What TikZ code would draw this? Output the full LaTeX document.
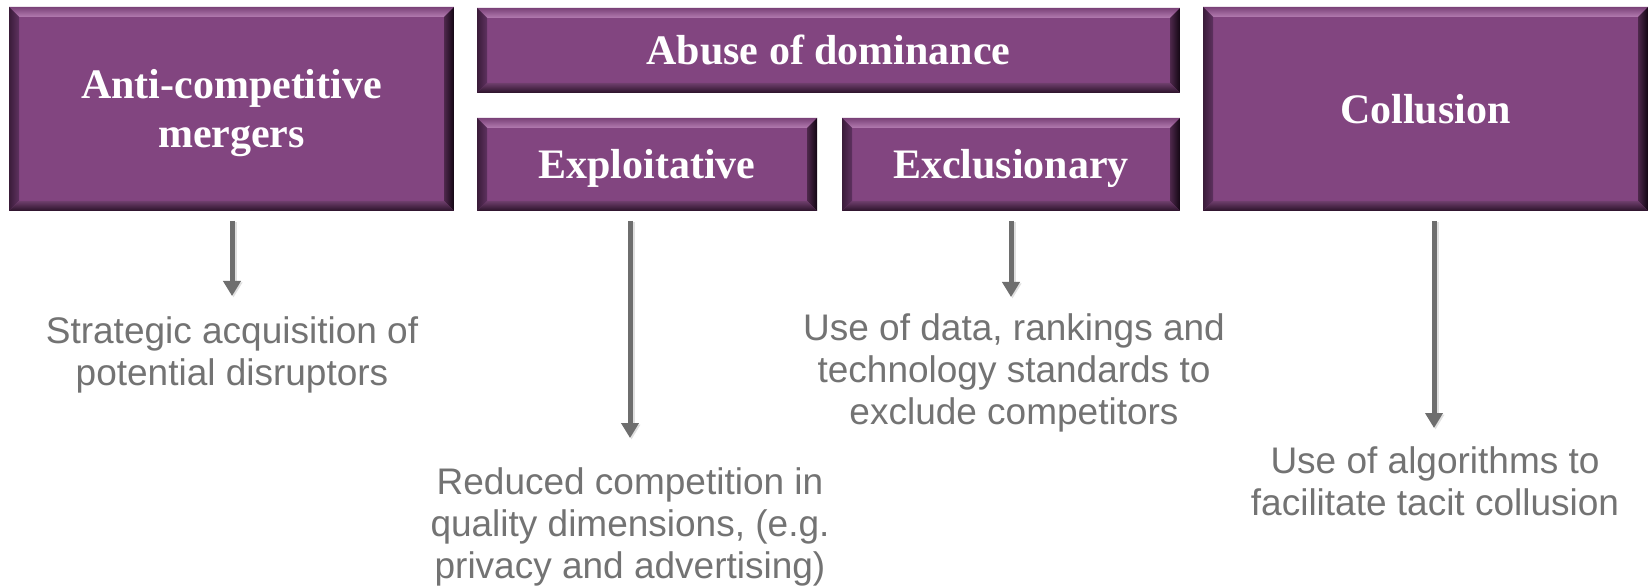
\documentclass[tikz,border=0pt]{standalone}
\usepackage{fontspec}
\setmainfont{Liberation Serif}
\newfontfamily\notefont{Liberation Sans}
\usetikzlibrary{arrows.meta}

% palette
\definecolor{boxfill}{HTML}{824580}
\definecolor{bvTopOut}{HTML}{7A4278}
\definecolor{bvTopIn}{HTML}{B47CB1}
\definecolor{bvLeftOut}{HTML}{3A1C39}
\definecolor{bvLeftIn}{HTML}{5E3160}
\definecolor{bvRightIn}{HTML}{4E284C}
\definecolor{bvRightOut}{HTML}{120612}
\definecolor{bvBotIn}{HTML}{6E3E6C}
\definecolor{bvBotOut}{HTML}{2A1229}
\definecolor{notegray}{HTML}{737373}
\definecolor{arrowgray}{HTML}{6E6E6E}

\def\bevelw{10pt}

\tikzset{
  x=1pt, y=-1pt,
  bevelbox/.style={
    rectangle, inner sep=0pt, outer sep=0pt, fill=boxfill,
    text=white, align=center, text height=29pt, text depth=0pt,
    font=\fontsize{42}{49}\selectfont\bfseries,
    path picture={
      \path (path picture bounding box.north west) coordinate (pNW)
            (path picture bounding box.north east) coordinate (pNE)
            (path picture bounding box.south west) coordinate (pSW)
            (path picture bounding box.south east) coordinate (pSE);
      % top bevel
      \shade[top color=bvTopOut, bottom color=bvTopIn]
        (pNW) -- (pNE) -- ([shift={(-\bevelw,-\bevelw)}]pNE)
        -- ([shift={(\bevelw,-\bevelw)}]pNW) -- cycle;
      % left bevel
      \shade[left color=bvLeftOut, right color=bvLeftIn]
        (pNW) -- ([shift={(\bevelw,-\bevelw)}]pNW)
        -- ([shift={(\bevelw,\bevelw)}]pSW) -- (pSW) -- cycle;
      % right bevel
      \shade[left color=bvRightIn, right color=bvRightOut]
        (pNE) -- (pSE) -- ([shift={(-\bevelw,\bevelw)}]pSE)
        -- ([shift={(-\bevelw,-\bevelw)}]pNE) -- cycle;
      % bottom bevel
      \shade[top color=bvBotIn, bottom color=bvBotOut]
        (pSW) -- ([shift={(\bevelw,\bevelw)}]pSW)
        -- ([shift={(-\bevelw,\bevelw)}]pSE) -- (pSE) -- cycle;
    }
  },
  note/.style={
    inner sep=0pt, text=notegray, align=center, anchor=base,
    font=\notefont\fontsize{37}{42}\selectfont
  },
  arr/.style={
    draw=arrowgray, line width=5pt,
    -{Triangle[width=17pt,length=15pt]},
    preaction={draw=black, opacity=0.12, line width=6pt,
      transform canvas={shift={(1.5pt,-1.5pt)}}}
  }
}

\begin{document}
\begin{tikzpicture}
  \useasboundingbox (0,0) rectangle (1650,588);
  \fill[white] (0,0) rectangle (1650,588);

  % category boxes
  \node[bevelbox, text height=78pt, minimum width=445pt, minimum height=204pt] (mrg) at (231.5,109)
    {Anti-competitive\\mergers};
  \node[bevelbox, minimum width=703pt, minimum height=85pt] (abd) at (828.5,50.5)
    {Abuse of dominance};
  \node[bevelbox, minimum width=340pt, minimum height=93pt] (exp) at (647,164.5)
    {Exploitative};
  \node[bevelbox, minimum width=338pt, minimum height=93pt] (exc) at (1011,164.5)
    {Exclusionary};
  \node[bevelbox, minimum width=445pt, minimum height=204pt] (col) at (1425.5,109)
    {Collusion};

  % descriptions (placed by the baseline of their last line)
  \node[note] (dmrg) at (232,385)
    {Strategic acquisition of\\potential disruptors};
  \node[note] (dexp) at (630,578)
    {Reduced competition in\\quality dimensions, (e.g.\\privacy and advertising)};
  \node[note] (dexc) at (1014,424)
    {Use of data, rankings and\\technology standards to\\exclude competitors};
  \node[note] (dcol) at (1435,515)
    {Use of algorithms to\\facilitate tacit collusion};

  % arrow tips
  \coordinate (tmrg) at (232,296);
  \coordinate (texp) at (630,438);
  \coordinate (texc) at (1011,297);
  \coordinate (tcol) at (1434,428);

  \draw[arr] ([yshift=-10pt]mrg.south -| tmrg) -- (tmrg);
  \draw[arr] ([yshift=-10pt]exp.south -| texp) -- (texp);
  \draw[arr] ([yshift=-10pt]exc.south -| texc) -- (texc);
  \draw[arr] ([yshift=-10pt]col.south -| tcol) -- (tcol);
\end{tikzpicture}
\end{document}
